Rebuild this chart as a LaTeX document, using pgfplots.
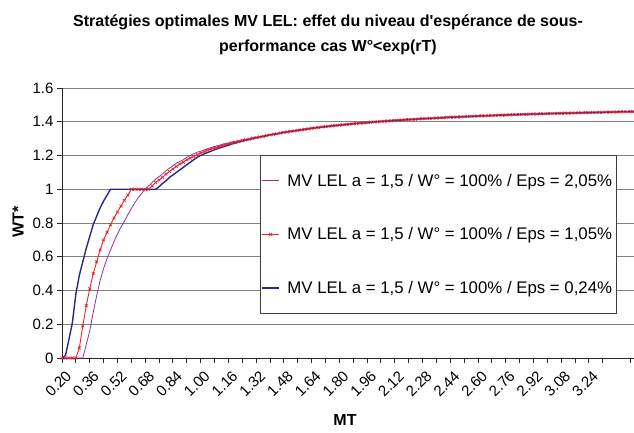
\documentclass[border=0pt]{standalone}
\usepackage{pgfplots}
\pgfplotsset{compat=1.18}
\usepackage{pgfplotstable}
\usepackage{fontspec}
\setmainfont{Liberation Sans}
\definecolor{cpurple}{RGB}{150,50,150}
\definecolor{cred}{RGB}{235,35,45}
\definecolor{cblue}{RGB}{40,40,140}
\definecolor{cgrid}{RGB}{128,128,128}
\pgfplotstableread{
x p r b
0.20 0 0 0
0.22 0 0 0.015
0.24 0 0 0.11
0.26 0 0 0.21
0.28 0 0 0.38
0.30 0 0.06 0.49
0.32 0 0.19 0.57
0.34 0.08 0.31 0.65
0.36 0.16 0.41 0.72
0.38 0.27 0.50 0.79
0.40 0.37 0.57 0.84
0.42 0.46 0.64 0.89
0.44 0.53 0.70 0.93
0.46 0.59 0.745 0.965
0.48 0.64 0.79 1.0
0.50 0.69 0.83 1.0
0.52 0.735 0.865 1.0
0.54 0.775 0.90 1.0
0.56 0.81 0.935 1.0
0.58 0.85 0.965 1.0
0.60 0.885 1.0 1.0
0.62 0.92 1.0 1.0
0.64 0.95 1.0 1.0
0.66 0.975 1.0 1.0
0.68 1.0 1.0 1.0
0.70 1.02 1.0 1.0
0.72 1.04 1.02 1.0
0.74 1.06 1.04 1.0
0.76 1.075 1.055 1.015
0.78 1.09 1.07 1.035
0.80 1.11 1.09 1.05
0.82 1.125 1.105 1.07
0.84 1.14 1.12 1.085
0.86 1.155 1.135 1.10
0.88 1.165 1.15 1.115
0.90 1.175 1.16 1.13
0.92 1.19 1.175 1.145
0.94 1.20 1.185 1.16
0.96 1.21 1.195 1.175
0.98 1.22 1.205 1.19
1.00 1.225 1.215 1.200
1.02 1.233 1.223 1.209
1.04 1.240 1.231 1.218
1.06 1.247 1.238 1.226
1.08 1.253 1.245 1.234
1.10 1.259 1.251 1.241
1.12 1.264 1.257 1.248
1.14 1.270 1.263 1.255
1.16 1.274 1.268 1.261
1.18 1.280 1.274 1.268
1.20 1.284 1.279 1.274
1.22 1.288 1.283 1.279
1.24 1.293 1.288 1.285
1.26 1.296 1.293 1.290
1.28 1.300 1.297 1.295
1.30 1.304 1.302 1.300
1.32 1.308 1.306 1.305
1.34 1.311 1.310 1.309
1.36 1.314 1.313 1.313
1.38 1.318 1.318 1.318
1.40 1.322 1.322 1.322
1.42 1.326 1.326 1.326
1.44 1.329 1.329 1.329
1.46 1.333 1.333 1.333
1.48 1.337 1.337 1.337
1.50 1.340 1.340 1.340
1.52 1.343 1.343 1.343
1.54 1.346 1.346 1.346
1.56 1.349 1.349 1.349
1.58 1.352 1.352 1.352
1.60 1.355 1.355 1.355
1.62 1.358 1.358 1.358
1.64 1.361 1.361 1.361
1.66 1.364 1.364 1.364
1.68 1.366 1.366 1.366
1.70 1.369 1.369 1.369
1.72 1.371 1.371 1.371
1.74 1.373 1.373 1.373
1.76 1.376 1.376 1.376
1.78 1.378 1.378 1.378
1.80 1.380 1.380 1.380
1.82 1.382 1.382 1.382
1.84 1.384 1.384 1.384
1.86 1.386 1.386 1.386
1.88 1.388 1.388 1.388
1.90 1.390 1.390 1.390
1.92 1.392 1.392 1.392
1.94 1.393 1.393 1.393
1.96 1.395 1.395 1.395
1.98 1.397 1.397 1.397
2.00 1.399 1.399 1.399
2.02 1.400 1.400 1.400
2.04 1.402 1.402 1.402
2.06 1.403 1.403 1.403
2.08 1.405 1.405 1.405
2.10 1.406 1.406 1.406
2.12 1.408 1.408 1.408
2.14 1.409 1.409 1.409
2.16 1.410 1.410 1.410
2.18 1.412 1.412 1.412
2.20 1.413 1.413 1.413
2.22 1.414 1.414 1.414
2.24 1.415 1.415 1.415
2.26 1.417 1.417 1.417
2.28 1.418 1.418 1.418
2.30 1.419 1.419 1.419
2.32 1.420 1.420 1.420
2.34 1.421 1.421 1.421
2.36 1.422 1.422 1.422
2.38 1.423 1.423 1.423
2.40 1.424 1.424 1.424
2.42 1.426 1.426 1.426
2.44 1.427 1.427 1.427
2.46 1.427 1.427 1.427
2.48 1.428 1.428 1.428
2.50 1.429 1.429 1.429
2.52 1.430 1.430 1.430
2.54 1.431 1.431 1.431
2.56 1.432 1.432 1.432
2.58 1.433 1.433 1.433
2.60 1.434 1.434 1.434
2.62 1.435 1.435 1.435
2.64 1.435 1.435 1.435
2.66 1.436 1.436 1.436
2.68 1.437 1.437 1.437
2.70 1.438 1.438 1.438
2.72 1.439 1.439 1.439
2.74 1.439 1.439 1.439
2.76 1.440 1.440 1.440
2.78 1.441 1.441 1.441
2.80 1.442 1.442 1.442
2.82 1.442 1.442 1.442
2.84 1.443 1.443 1.443
2.86 1.444 1.444 1.444
2.88 1.444 1.444 1.444
2.90 1.445 1.445 1.445
2.92 1.446 1.446 1.446
2.94 1.446 1.446 1.446
2.96 1.447 1.447 1.447
2.98 1.447 1.447 1.447
3.00 1.448 1.448 1.448
3.02 1.449 1.449 1.449
3.04 1.449 1.449 1.449
3.06 1.450 1.450 1.450
3.08 1.450 1.450 1.450
3.10 1.451 1.451 1.451
3.12 1.451 1.451 1.451
3.14 1.452 1.452 1.452
3.16 1.452 1.452 1.452
3.18 1.453 1.453 1.453
3.20 1.453 1.453 1.453
3.22 1.454 1.454 1.454
3.24 1.454 1.454 1.454
3.26 1.455 1.455 1.455
3.28 1.455 1.455 1.455
3.30 1.456 1.456 1.456
3.32 1.456 1.456 1.456
3.34 1.457 1.457 1.457
3.36 1.457 1.457 1.457
3.38 1.458 1.458 1.458
3.40 1.458 1.458 1.458
3.42 1.459 1.459 1.459
3.44 1.459 1.459 1.459
3.46 1.459 1.459 1.459
3.48 1.460 1.460 1.460
3.50 1.460 1.460 1.460
}\data

\begin{document}
\begin{tikzpicture}[x=1pt,y=1pt]
\useasboundingbox (0,0) rectangle (634,432);
\begin{axis}[
  at={(62pt,74pt)}, anchor=south west,
  width=572pt, height=270pt, scale only axis,
  xmin=0.20, xmax=3.50, ymin=0, ymax=1.6,
  axis x line=bottom, axis y line=left,
  axis line style={-, black!85, line width=0.9pt},
  xtick={0.20,0.36,0.52,0.68,0.84,1.00,1.16,1.32,1.48,1.64,1.80,1.96,2.12,2.28,2.44,2.60,2.76,2.92,3.08,3.24},
  xticklabels={0.20,0.36,0.52,0.68,0.84,1.00,1.16,1.32,1.48,1.64,1.80,1.96,2.12,2.28,2.44,2.60,2.76,2.92,3.08,3.24},
  minor xtick={0.28,0.44,0.60,0.76,0.92,1.08,1.24,1.40,1.56,1.72,1.88,2.04,2.20,2.36,2.52,2.68,2.84,3.00,3.16,3.32,3.48},
  ytick={0,0.2,0.4,0.6,0.8,1,1.2,1.4,1.6},
  yticklabels={0,0.2,0.4,0.6,0.8,1,1.2,1.4,1.6},
  tick align=outside, major tick length=5pt, minor tick length=5pt,
  every tick/.style={black!85, line width=0.9pt},
  ymajorgrids, major grid style={cgrid, line width=0.9pt},
  tick label style={font=\fontsize{15}{17}\selectfont},
  xticklabel style={yshift=-8pt, xshift=9pt, rotate=45, anchor=east},
  legend style={at={(0.3462,0.7519)}, anchor=north west, draw=black!75, line width=0.8pt, fill=white,
    font=\fontsize{16.8}{19}\selectfont, row sep=40pt, column sep=4pt, inner xsep=1pt, inner ysep=18.5pt,
    nodes={inner xsep=3.5pt, inner ysep=0pt}},
  legend cell align=left,
]
\addplot[cpurple, line width=0.8pt] table[x=x,y=p]{\data};
\addlegendentry{MV LEL a = 1,5 / W° = 100\% / Eps = 2,05\%}
\addplot[cred, line width=0.9pt, mark=x, mark size=2pt, mark options={solid, line width=0.7pt}] table[x=x,y=r]{\data};
\addlegendentry{MV LEL a = 1,5 / W° = 100\% / Eps = 1,05\%}
\addplot[cblue, line width=1.4pt] table[x=x,y=b]{\data};
\addlegendentry{MV LEL a = 1,5 / W° = 100\% / Eps = 0,24\%}
\end{axis}
\node[font=\bfseries\fontsize{16}{19}\selectfont] at (328,410) {Stratégies optimales MV LEL: effet du niveau d\textquotesingle espérance de sous-};
\node[font=\bfseries\fontsize{16}{19}\selectfont] at (328,385) {performance cas W°<exp(rT)};
\node[font=\bfseries\fontsize{16}{19}\selectfont, rotate=90] at (18,210) {WT*};
\node[font=\bfseries\fontsize{16}{19}\selectfont] at (345,12) {MT};
\end{tikzpicture}
\end{document}
